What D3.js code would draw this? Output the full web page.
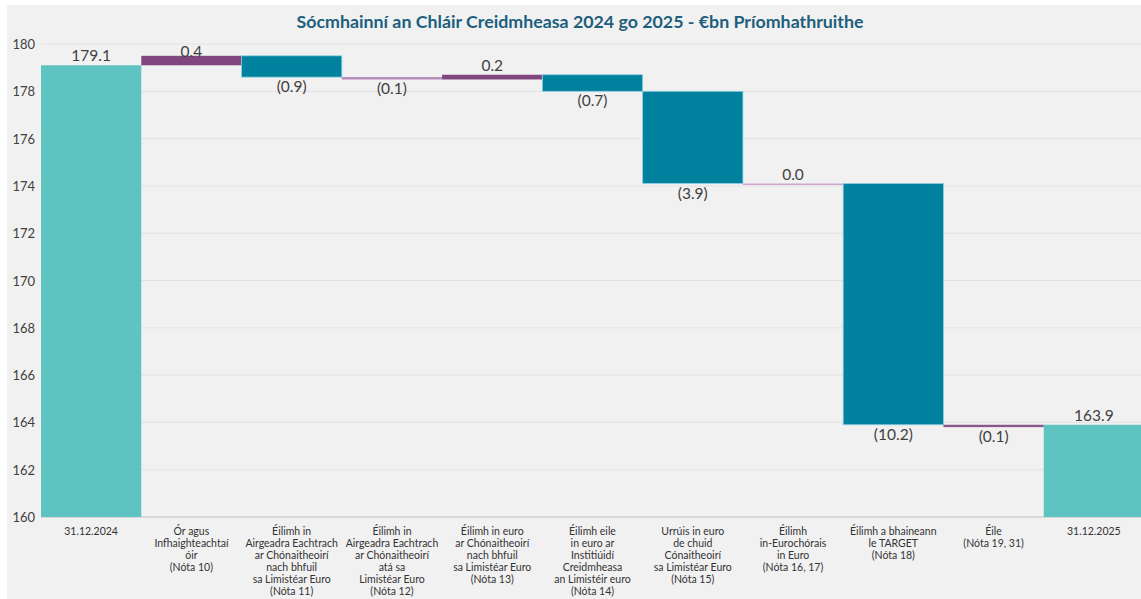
<!DOCTYPE html>
<html><head><meta charset="utf-8">
<script src="https://cdn.jsdelivr.net/npm/d3@7"></script>
<style>body{margin:0;background:#fff;font-family:Lato,"Noto Sans",sans-serif;}</style>
</head><body><svg id="c" width="1141" height="599"></svg>
<script>
const title = "Sócmhainní an Chláir Creidmheasa 2024 go 2025 - €bn Príomhathruithe";
const categories = [
  ["31.12.2024"],
  ["Ór agus","Infhaighteachtaí","óir","(Nóta 10)"],
  ["Éilimh in","Airgeadra Eachtrach","ar Chónaitheoirí","nach bhfuil","sa Limistéar Euro","(Nóta 11)"],
  ["Éilimh in","Airgeadra Eachtrach","ar Chónaitheoirí","atá sa","Limistéar Euro","(Nóta 12)"],
  ["Éilimh in euro","ar Chónaitheoirí","nach bhfuil","sa Limistéar Euro","(Nóta 13)"],
  ["Éilimh eile","in euro ar","Institiúidí","Creidmheasa","an Limistéir euro","(Nóta 14)"],
  ["Urrúis in euro","de chuid","Cónaitheoirí","sa Limistéar Euro","(Nóta 15)"],
  ["Éilimh","in-Eurochórais","in Euro","(Nóta 16, 17)"],
  ["Éilimh a bhaineann","le TARGET","(Nóta 18)"],
  ["Éile","(Nóta 19, 31)"],
  ["31.12.2025"]
];
const kinds = ["total","delta","delta","delta","delta","delta","delta","delta","delta","delta","total"];
const values = [179.1, 0.4, -0.9, -0.1, 0.2, -0.7, -3.9, 0.0, -10.2, -0.1, 163.9];
const yTicks = [160,162,164,166,168,170,172,174,176,178,180];

const svg = d3.select("#c");
svg.append("rect").attr("x",7).attr("y",5).attr("width",1134).attr("height",594).attr("fill","#f1f1f1");

const x = d3.scaleBand().domain(d3.range(values.length)).range([41,1144]).padding(0);
const y = d3.scaleLinear().domain([160,180]).range([517,44]);

// grid
svg.append("g").selectAll("line").data(yTicks).join("line")
  .attr("x1",41).attr("x2",1141).attr("y1",d=>y(d)).attr("y2",d=>y(d))
  .attr("stroke",d=>d===160?"#d9d9d9":"#e3e3e3").attr("stroke-width",d=>d===160?2:1);

// y axis labels
const yAxis = d3.axisLeft(y).tickValues(yTicks).tickSize(0).tickPadding(6);
const ga = svg.append("g").attr("transform","translate(41,0)").call(yAxis);
ga.select(".domain").remove();
ga.selectAll("text").attr("font-family","Lato").attr("font-size",13).attr("fill","#404040").attr("x",-6).attr("dy","0.35em");

// compute waterfall
let run = 0;
const bars = values.map((v,i)=>{
  let lo, hi;
  if (kinds[i]==="total"){ lo=160; hi=v; run=v; }
  else { const s=run; run=run+v; lo=Math.min(s,run); hi=Math.max(s,run); }
  return {i, v, kind:kinds[i], lo, hi};
});

const g = svg.append("g");
bars.forEach(b=>{
  const top=y(b.hi), bot=y(b.lo);
  let h=bot-top;
  let fill, stroke=null;
  if (b.kind==="total") fill="#5ec4c1";
  else if (h<3) { fill = b.v===0 ? "#cfa6cf" : (b.i===3?"#b487b4":"#8a5690"); }
  else if (b.v>0) fill="#7f4680";
  else { fill="#00829f"; stroke="#8ccfe0"; }
  if (h<1.5) h=1.5;
  g.append("rect").attr("x",x(b.i)).attr("y",top).attr("width",Math.min(x.bandwidth(),1141-x(b.i))).attr("height",h)
    .attr("fill",fill).attr("stroke",stroke).attr("stroke-width",stroke?0.8:0);
  const cx = x(b.i)+x.bandwidth()/2;
  let ly, txt;
  if (b.kind==="total" || b.v>=0){
    ly = Math.max(top-4, y(180)+13);
    txt = b.v.toFixed(1);
  } else {
    ly = bot+15;
    txt = "(" + Math.abs(b.v).toFixed(1) + ")";
  }
  g.append("text").attr("x",cx).attr("y",ly).attr("text-anchor","middle")
    .attr("font-family","Lato").attr("font-size",15.5).attr("fill","#404040").text(txt);
});

// x labels
const xl = svg.append("g");
categories.forEach((lines,i)=>{
  const t = xl.append("text").attr("text-anchor","middle").attr("font-family","Lato")
    .attr("font-size",10.5).attr("fill","#333");
  lines.forEach((ln,k)=>{
    t.append("tspan").attr("x",x(i)+x.bandwidth()/2).attr("y",535+k*12).text(ln);
  });
});

svg.append("text").attr("x",580).attr("y",28).attr("text-anchor","middle")
  .attr("font-family","Lato").attr("font-weight","bold").attr("font-size",17.8)
  .attr("fill","#1d5f7d").text(title);
</script></body></html>
